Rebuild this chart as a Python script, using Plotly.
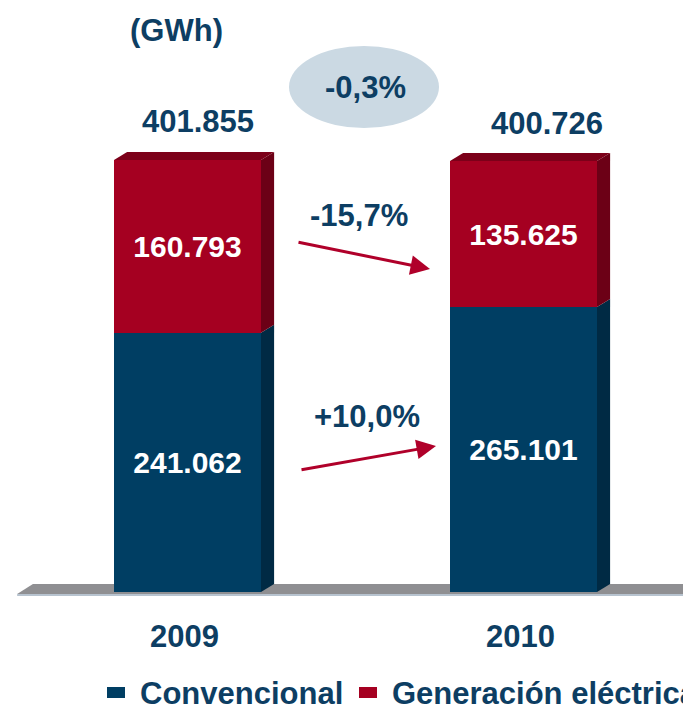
import plotly.graph_objects as go

# Data (GWh)
years = ["2009", "2010"]
convencional = [241062, 265101]
generacion = [160793, 135625]
totals = [401855, 400726]
pct_generacion = "-15,7%"
pct_convencional = "+10,0%"
pct_total = "-0,3%"

# Colors
BLUE = "#003e63"
BLUE_SIDE = "#002a44"
RED = "#a50021"
RED_SIDE = "#6c0016"
RED_TOP = "#7c0019"
TEXT = "#0d3e63"
ARROW = "#b0002a"
FONT = "Arial, Liberation Sans, sans-serif"

# page body adds an 8px margin, so the figure is a bit smaller than the window
W, H, OFF = 683, 699, 8

# geometry (data units)
X = [0, 1]
BAR_W = 0.4375
DX = 0.039          # depth offset in x
DY = 7440           # depth offset in y
PX_X = 336          # pixels per x unit
PX_Y = 930          # GWh per pixel
X0_PX, Y0_PX = 187.5, 592   # window pixel of x=0 / y=0
TOTAL_SHIFT = [0.03, 0.07]  # totals sit a little right of the bar centre


def px(xp):
    return (xp - OFF) / W


def py(yp):
    return 1 - (yp - OFF) / H


def dx_(xp):
    return (xp - X0_PX) / PX_X


def dy_(yp):
    return (Y0_PX - yp) * PX_Y


fig = go.Figure()

# floor slab
fig.add_shape(type="path", xref="x", yref="y", layer="below",
              path=f"M -0.507,-1860 L -0.46,{DY} L 1.7,{DY} L 1.7,-1860 Z",
              fillcolor="#8f8f92", line=dict(width=0))
fig.add_shape(type="line", xref="x", yref="y", layer="below",
              x0=-0.507, x1=1.7, y0=-2800, y1=-2800,
              line=dict(color="#b7c3cf", width=2))

# front faces
fig.add_trace(go.Bar(x=X, y=convencional, width=BAR_W, name="Convencional",
                     marker=dict(color=BLUE, line=dict(width=0))))
fig.add_trace(go.Bar(x=X, y=generacion, width=BAR_W, name="Generación eléctrica",
                     marker=dict(color=RED, line=dict(width=0))))
fig.update_traces(selector=dict(type="bar"), texttemplate="<b>%{y:,.0f}</b>",
                  textposition="inside", insidetextanchor="middle",
                  textfont=dict(family=FONT, size=30, color="white"))

# side and top faces for 3D look
for xc, c, g in zip(X, convencional, generacion):
    xr = xc + BAR_W / 2
    xl = xc - BAR_W / 2
    for y0, y1, col in [(0, c, BLUE_SIDE), (c, c + g, RED_SIDE)]:
        fig.add_trace(go.Scatter(
            x=[xr, xr + DX, xr + DX, xr, xr], y=[y0, y0 + DY, y1 + DY, y1, y0],
            fill="toself", fillcolor=col, mode="lines", line=dict(width=0),
            hoverinfo="skip", showlegend=False))
    t = c + g
    fig.add_trace(go.Scatter(
        x=[xl, xl + DX, xr + DX, xr, xl], y=[t, t + DY, t + DY, t, t],
        fill="toself", fillcolor=RED_TOP, mode="lines", line=dict(width=0),
        hoverinfo="skip", showlegend=False))

txt = dict(showarrow=False, xanchor="center", yanchor="middle",
           font=dict(family=FONT, size=31, color=TEXT))
ann = []
# totals
for xc, t, s in zip(X, totals, TOTAL_SHIFT):
    label = f"{t:,}".replace(",", ".")
    ann.append(dict(txt, x=xc + s, y=t + DY + 30 * PX_Y,
                    text=f"<b>{label}</b>"))
# year labels
for xc, yr in zip(X, years):
    ann.append(dict(txt, x=xc - 0.01, y=dy_(636), text=f"<b>{yr}</b>"))

# arrows
arrow = dict(text="", showarrow=True, axref="x", ayref="y", arrowhead=2,
             arrowsize=1.3, arrowwidth=3, arrowcolor=ARROW)
ann.append(dict(arrow, x=dx_(430), y=dy_(269), ax=dx_(297), ay=dy_(242)))
ann.append(dict(arrow, x=dx_(436), y=dy_(446), ax=dx_(300), ay=dy_(470)))
ann.append(dict(txt, x=dx_(359), y=dy_(215), text=f"<b>{pct_generacion}</b>"))
ann.append(dict(txt, x=dx_(367), y=dy_(416), text=f"<b>{pct_convencional}</b>"))

# ellipse with total change
fig.add_shape(type="circle", xref="paper", yref="paper",
              x0=px(289), x1=px(439), y0=py(128), y1=py(46),
              fillcolor="#cbd9e3", line=dict(width=0), layer="below")
ann.append(dict(txt, x=px(365), y=py(88), xref="paper", yref="paper",
                text=f"<b>{pct_total}</b>"))

# unit
ann.append(dict(txt, x=px(176), y=py(30), xref="paper", yref="paper",
                text="<b>(GWh)</b>"))

# legend drawn manually (it runs past the right edge in the original)
for x0, col, label in [(107, BLUE, "Convencional"), (359, RED, "Generación eléctrica")]:
    fig.add_shape(type="rect", xref="paper", yref="paper",
                  x0=px(x0), x1=px(x0 + 18), y0=py(698), y1=py(687),
                  fillcolor=col, line=dict(width=0))
    ann.append(dict(txt, x=px(x0 + 31), y=py(693), xref="paper", yref="paper",
                    xanchor="left", text=f"<b>{label}</b>"))

fig.update_layout(
    width=W, height=H,
    margin=dict(l=0, r=0, t=0, b=0),
    barmode="stack",
    separators=",.",
    showlegend=False,
    paper_bgcolor="white",
    plot_bgcolor="white",
    xaxis=dict(range=[dx_(OFF), dx_(691)], visible=False),
    yaxis=dict(range=[dy_(707), dy_(OFF)], visible=False),
    annotations=ann,
)

fig.write_html("out.html")
